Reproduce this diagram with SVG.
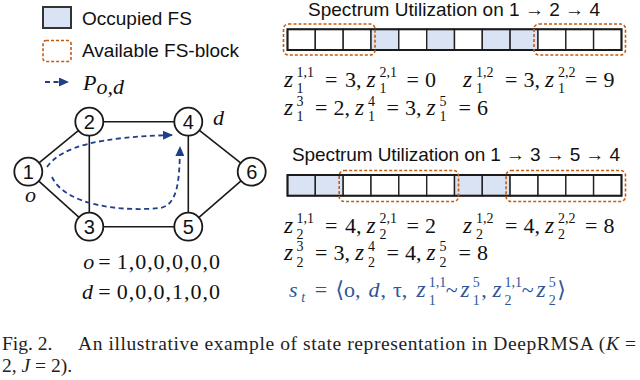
<svg xmlns="http://www.w3.org/2000/svg" width="640" height="380" viewBox="0 0 640 380">
<style>
.sans{font-family:"Liberation Sans",Arial,sans-serif;fill:#111}
.m{font-family:"Liberation Serif","DejaVu Serif",serif;font-size:22px;fill:#111}
.s{font-size:14px}
.i{font-style:italic}
.z{font-style:italic;font-size:23.5px}
.cell{fill:#fff;stroke:#222;stroke-width:1.4}
.occ{fill:#dae3f3}
.outer{fill:none;stroke:#1a1a1a;stroke-width:2}
.blk{fill:none;stroke:#c55a11;stroke-width:1.6;stroke-dasharray:3 2}
.edge{stroke:#1a1a1a;stroke-width:1.6}
.node circle{fill:#fff;stroke:#1a1a1a;stroke-width:1.8}
.node text{font-family:"Liberation Sans",Arial,sans-serif;font-size:20px;text-anchor:middle;fill:#111}
.route{fill:none;stroke:#1f3f88;stroke-width:1.8;stroke-dasharray:5 3.5}
.blue{fill:#2f5597}
.cap{font-family:"Liberation Serif","Times New Roman",serif;font-size:19.5px;fill:#222}
</style>
<defs>
<marker id="ah" markerUnits="userSpaceOnUse" markerWidth="10" markerHeight="9" refX="9" refY="4.5" orient="auto">
<path d="M0,0 L10,4.5 L0,9 Z" fill="#1f3f88"/>
</marker>
</defs>

<g id="legend">
<rect x="43" y="7" width="28" height="21" fill="#dae3f3" stroke="#333" stroke-width="2"/>
<text class="sans" x="82" y="25" font-size="19">Occupied FS</text>
<rect class="blk" x="43" y="40.5" width="28" height="21" rx="3"/>
<text class="sans" x="82" y="57" font-size="19">Available FS-block</text>
<path class="route" d="M45,82 H68" marker-end="url(#ah)"/>
<text class="m i" x="83" y="90" font-size="19">P</text>
<text class="m i" x="96.5" y="94" font-size="14">o,d</text>
</g>

<g id="connectors">
<line class="edge" x1="28.3" y1="171.7" x2="89.3" y2="121.7"/>
<line class="edge" x1="28.3" y1="171.7" x2="89.3" y2="226.7"/>
<line class="edge" x1="89.3" y1="121.7" x2="188.3" y2="121.7"/>
<line class="edge" x1="89.3" y1="226.7" x2="188.3" y2="226.7"/>
<line class="edge" x1="89.3" y1="121.7" x2="89.3" y2="226.7"/>
<line class="edge" x1="188.3" y1="121.7" x2="188.3" y2="226.7"/>
<line class="edge" x1="188.3" y1="121.7" x2="251.7" y2="171.7"/>
<line class="edge" x1="188.3" y1="226.7" x2="251.7" y2="171.7"/>
<path class="route" d="M47,167 C62,146 100,137 172,135" marker-end="url(#ah)"/>
<path class="route" d="M52,177 C65,205 120,212 160,208 C178,205 179.5,180 180,147" marker-end="url(#ah)"/>
</g>

<g id="node1" class="node"><circle cx="28.3" cy="171.7" r="14"/><text x="28.3" y="178.7">1</text></g>
<g id="node2" class="node"><circle cx="89.3" cy="121.7" r="14"/><text x="89.3" y="128.7">2</text></g>
<g id="node3" class="node"><circle cx="89.3" cy="226.7" r="14"/><text x="89.3" y="233.7">3</text></g>
<g id="node4" class="node"><circle cx="188.3" cy="121.7" r="14"/><text x="188.3" y="128.7">4</text></g>
<g id="node5" class="node"><circle cx="188.3" cy="226.7" r="14"/><text x="188.3" y="233.7">5</text></g>
<g id="node6" class="node"><circle cx="251.7" cy="171.7" r="14"/><text x="251.7" y="178.7">6</text></g>
<text class="m i" x="25" y="201.5" font-size="22">o</text>
<text class="m i" x="213" y="125" font-size="22">d</text>

<g id="od-vectors">
<text class="m" y="269"><tspan class="i" x="83.3">o</tspan><tspan x="98.3">=</tspan><tspan x="116.7" textLength="103.3">1,0,0,0,0,0</tspan></text>
<text class="m" y="299"><tspan class="i" x="82">d</tspan><tspan x="98.3">=</tspan><tspan x="116.7" textLength="103.3">0,0,0,1,0,0</tspan></text>
</g>

<g id="spectrum1">
<text class="sans" x="308" y="16" font-size="19" textLength="292">Spectrum Utilization on 1 → 2 → 4</text>
<rect class="cell" x="287.5" y="29.3" width="27.8" height="20.7"/>
<rect class="cell" x="315.3" y="29.3" width="27.9" height="20.7"/>
<rect class="cell" x="343.2" y="29.3" width="27.8" height="20.7"/>
<rect class="cell occ" x="371.0" y="29.3" width="27.8" height="20.7"/>
<rect class="cell" x="398.8" y="29.3" width="27.9" height="20.7"/>
<rect class="cell occ" x="426.7" y="29.3" width="27.8" height="20.7"/>
<rect class="cell" x="454.5" y="29.3" width="27.8" height="20.7"/>
<rect class="cell occ" x="482.3" y="29.3" width="27.8" height="20.7"/>
<rect class="cell occ" x="510.1" y="29.3" width="27.9" height="20.7"/>
<rect class="cell" x="538.0" y="29.3" width="27.8" height="20.7"/>
<rect class="cell" x="565.8" y="29.3" width="27.8" height="20.7"/>
<rect class="cell" x="593.6" y="29.3" width="27.9" height="20.7"/>
<rect class="outer" x="287.5" y="29.3" width="334" height="20.7"/>
<rect class="blk" x="283.5" y="24" width="91.5" height="31" rx="5"/>
<rect class="blk" x="534" y="24" width="91.5" height="31" rx="5"/>
<text class="m" y="87"><tspan class="z" x="284">z</tspan><tspan class="s" x="296.5" y="77">1,1</tspan><tspan class="s" x="296.5" y="93">1</tspan><tspan x="325" y="87">=</tspan><tspan x="345">3,</tspan><tspan class="z" x="366.5">z</tspan><tspan class="s" x="379.5" y="77">2,1</tspan><tspan class="s" x="379.5" y="93">1</tspan><tspan x="406.5" y="87">=</tspan><tspan x="425">0</tspan><tspan class="z" x="463">z</tspan><tspan class="s" x="476" y="77">1,2</tspan><tspan class="s" x="476" y="93">1</tspan><tspan x="505" y="87">=</tspan><tspan x="523.5">3,</tspan><tspan class="z" x="545">z</tspan><tspan class="s" x="558" y="77">2,2</tspan><tspan class="s" x="558" y="93">1</tspan><tspan x="585" y="87">=</tspan><tspan x="603.5">9</tspan></text>
<text class="m" y="114.5"><tspan class="z" x="284">z</tspan><tspan class="s" x="296.5" y="105.5">3</tspan><tspan class="s" x="296.5" y="121">1</tspan><tspan x="315" y="114.5">=</tspan><tspan x="333.5">2,</tspan><tspan class="z" x="355">z</tspan><tspan class="s" x="368" y="105.5">4</tspan><tspan class="s" x="368" y="121">1</tspan><tspan x="386.5" y="114.5">=</tspan><tspan x="405">3,</tspan><tspan class="z" x="426.5">z</tspan><tspan class="s" x="439.5" y="105.5">5</tspan><tspan class="s" x="439.5" y="121">1</tspan><tspan x="458.5" y="114.5">=</tspan><tspan x="477">6</tspan></text>
</g>

<g id="spectrum2">
<text class="sans" x="292" y="161" font-size="19" textLength="328">Spectrum Utilization on 1 → 3 → 5 → 4</text>
<rect class="cell occ" x="287.5" y="175" width="27.8" height="20.7"/>
<rect class="cell occ" x="315.3" y="175" width="27.9" height="20.7"/>
<rect class="cell" x="343.2" y="175" width="27.8" height="20.7"/>
<rect class="cell" x="371.0" y="175" width="27.8" height="20.7"/>
<rect class="cell" x="398.8" y="175" width="27.9" height="20.7"/>
<rect class="cell" x="426.7" y="175" width="27.8" height="20.7"/>
<rect class="cell occ" x="454.5" y="175" width="27.8" height="20.7"/>
<rect class="cell occ" x="482.3" y="175" width="27.8" height="20.7"/>
<rect class="cell" x="510.1" y="175" width="27.9" height="20.7"/>
<rect class="cell" x="538.0" y="175" width="27.8" height="20.7"/>
<rect class="cell" x="565.8" y="175" width="27.8" height="20.7"/>
<rect class="cell" x="593.6" y="175" width="27.9" height="20.7"/>
<rect class="outer" x="287.5" y="175" width="334" height="20.7"/>
<rect class="blk" x="339.2" y="170.5" width="119.3" height="31" rx="5"/>
<rect class="blk" x="506.1" y="170.5" width="119.4" height="31" rx="5"/>
<text class="m" y="232.7"><tspan class="z" x="284">z</tspan><tspan class="s" x="296.5" y="222.7">1,1</tspan><tspan class="s" x="296.5" y="238.7">2</tspan><tspan x="325" y="232.7">=</tspan><tspan x="345">4,</tspan><tspan class="z" x="366.5">z</tspan><tspan class="s" x="379.5" y="222.7">2,1</tspan><tspan class="s" x="379.5" y="238.7">2</tspan><tspan x="406.5" y="232.7">=</tspan><tspan x="425">2</tspan><tspan class="z" x="463">z</tspan><tspan class="s" x="476" y="222.7">1,2</tspan><tspan class="s" x="476" y="238.7">2</tspan><tspan x="505" y="232.7">=</tspan><tspan x="523.5">4,</tspan><tspan class="z" x="545">z</tspan><tspan class="s" x="558" y="222.7">2,2</tspan><tspan class="s" x="558" y="238.7">2</tspan><tspan x="585" y="232.7">=</tspan><tspan x="603.5">8</tspan></text>
<text class="m" y="260.2"><tspan class="z" x="284">z</tspan><tspan class="s" x="296.5" y="251.2">3</tspan><tspan class="s" x="296.5" y="266.7">2</tspan><tspan x="315" y="260.2">=</tspan><tspan x="333.5">3,</tspan><tspan class="z" x="355">z</tspan><tspan class="s" x="368" y="251.2">4</tspan><tspan class="s" x="368" y="266.7">2</tspan><tspan x="386.5" y="260.2">=</tspan><tspan x="405">4,</tspan><tspan class="z" x="426.5">z</tspan><tspan class="s" x="439.5" y="251.2">5</tspan><tspan class="s" x="439.5" y="266.7">2</tspan><tspan x="458.5" y="260.2">=</tspan><tspan x="477">8</tspan></text>
</g>

<g id="state">
<text class="m blue" y="297"><tspan class="i" x="289">s</tspan><tspan class="s i" x="301.3" y="302">t</tspan><tspan x="314.7" y="297">=</tspan><tspan x="335.5">⟨</tspan><tspan x="344">o,</tspan><tspan class="i" x="368.6">d</tspan><tspan x="380.5">,</tspan><tspan x="393">τ,</tspan><tspan class="z" x="416.4">z</tspan><tspan class="s" x="428.7" y="287">1,1</tspan><tspan class="s" x="428.7" y="304.5">1</tspan><tspan x="445.8" y="297">~</tspan><tspan class="z" x="460.5">z</tspan><tspan class="s" x="472.8" y="287">5</tspan><tspan class="s" x="472.8" y="304.5">1</tspan><tspan x="481.3" y="297">,</tspan><tspan class="z" x="492.4">z</tspan><tspan class="s" x="504.6" y="287">1,1</tspan><tspan class="s" x="504.6" y="304.5">2</tspan><tspan x="521.8" y="297">~</tspan><tspan class="z" x="536.5">z</tspan><tspan class="s" x="548.7" y="287">5</tspan><tspan class="s" x="548.7" y="304.5">2</tspan><tspan x="557.3" y="297">⟩</tspan></text>
</g>

<g id="caption">
<text class="cap" x="2" y="350">Fig. 2.</text>
<text class="cap" x="78" y="350" textLength="558">An illustrative example of state representation in DeepRMSA (<tspan font-style="italic">K</tspan> =</text>
<text class="cap" x="2" y="372">2, <tspan font-style="italic">J</tspan> = 2).</text>
</g>
</svg>
